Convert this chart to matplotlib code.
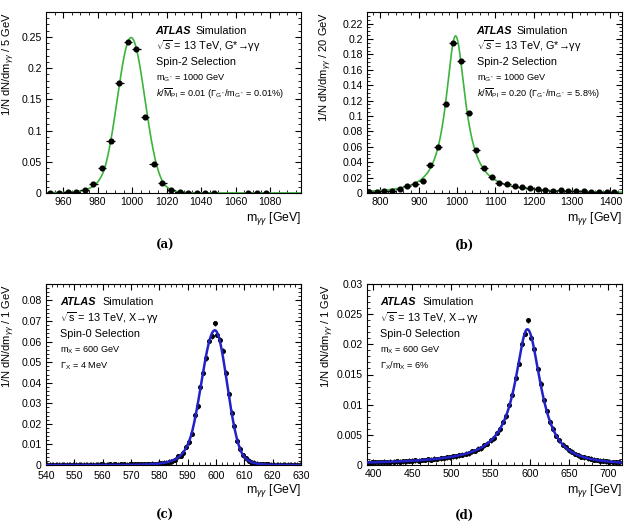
import numpy as np
import matplotlib
matplotlib.use("Agg")
import matplotlib.pyplot as plt
from matplotlib.ticker import MultipleLocator, FuncFormatter

plt.rcParams['font.family'] = ['Liberation Sans', 'DejaVu Sans']
plt.rcParams['mathtext.fontset'] = 'custom'
plt.rcParams['mathtext.rm'] = 'Liberation Sans'
plt.rcParams['mathtext.it'] = 'Liberation Sans:italic'
plt.rcParams['mathtext.bf'] = 'Liberation Sans:bold'

# (a) G* -> gg, k/MPl = 0.01, 5 GeV bins
a_x = [952.5, 957.5, 962.5, 967.5, 972.5, 977.5, 982.5, 987.5, 992.5, 997.5,
       1002.5, 1007.5, 1012.5, 1017.5, 1022.5, 1027.5, 1032.5, 1037.5, 1042.5,
       1047.5, 1067.5, 1072.5, 1077.5]
a_y = [0.0003, 0.0004, 0.0010, 0.0015, 0.0052, 0.0150, 0.0395, 0.0830, 0.1770,
       0.2425, 0.2310, 0.1220, 0.0470, 0.0160, 0.0043, 0.0015, 0.0008, 0.0005,
       0.0004, 0.0003, 0.0002, 0.0002, 0.0002]
a_err = 0.0025
a_fit = dict(mu=999.4, sl=8.0, sr=8.0, al=1.8, nl=6, ar=2.2, nr=10, amp=0.249)

# (b) G* -> gg, k/MPl = 0.20, 20 GeV bins
b_x = [770, 790, 810, 830, 850, 870, 890, 910, 930, 950, 970, 990, 1010, 1030,
       1050, 1070, 1090, 1110, 1130, 1150, 1170, 1190, 1210, 1230, 1250, 1270,
       1290, 1310, 1330, 1350, 1370, 1390, 1410]
b_y = [0.0012, 0.0018, 0.0025, 0.0032, 0.0054, 0.0088, 0.0120, 0.0160, 0.0370,
       0.0600, 0.1150, 0.1950, 0.1720, 0.1040, 0.0560, 0.0330, 0.0210, 0.0135,
       0.0122, 0.0092, 0.0072, 0.0065, 0.0050, 0.0040, 0.0030, 0.0040, 0.0025,
       0.0022, 0.0020, 0.0018, 0.0017, 0.0015, 0.0014]
b_err = 0.002
b_fit = dict(mu=996.0, gl=33.0, pl=1.15, gr=31.0, pr=1.0, amp=0.204)

# (c) X -> gg, width 4 MeV, 1 GeV bins starting at 540.5
c_y = [0.0001, 0.0002, 0.0001, 0.0001, 0.0002, 0.0001, 0.0002, 0.0001, 0.0002, 0.0002,
       0.0001, 0.0002, 0.0002, 0.0001, 0.0002, 0.0002, 0.0002, 0.0001, 0.0002, 0.0003,
       0.0002, 0.0002, 0.0003, 0.0002, 0.0003, 0.0002, 0.0003, 0.0003, 0.0002, 0.0003,
       0.0003, 0.0004, 0.0003, 0.0004, 0.0004, 0.0005, 0.0004, 0.0006, 0.0005, 0.0007,
       0.0008, 0.0010, 0.0012, 0.0016, 0.0019, 0.0025, 0.0042, 0.0046, 0.0060, 0.0088,
       0.0110, 0.0152, 0.0242, 0.0286, 0.0380, 0.0448, 0.0520, 0.0603, 0.0625, 0.0690,
       0.0632, 0.0610, 0.0555, 0.0448, 0.0345, 0.0255, 0.0190, 0.0118, 0.0080, 0.0047,
       0.0033, 0.0020, 0.0013, 0.0010, 0.0007, 0.0005, 0.0004, 0.0003, 0.0003, 0.0002,
       0.0002, 0.0001, 0.0002, 0.0001, 0.0001, 0.0002, 0.0001, 0.0001, 0.0001, 0.0001]
c_first = 540.5
c_width = 1.0
c_err = 0.0012
c_fit = dict(mu=599.6, sl=4.8, sr=4.3, al=1.6, nl=8, ar=2.0, nr=10, amp=0.0655)

# (d) X -> gg, width 6%, 4 GeV bins starting at 394
d_y = [0.00040, 0.00046, 0.00043, 0.00049, 0.00046, 0.00052, 0.00050, 0.00055, 0.00054,
       0.00060, 0.00057, 0.00064, 0.00062, 0.00070, 0.00069, 0.00076, 0.00074, 0.00083,
       0.00082, 0.00092, 0.00090, 0.00101, 0.00100, 0.00113, 0.00112, 0.00126, 0.00128,
       0.00143, 0.00146, 0.00163, 0.00170, 0.00190, 0.00197, 0.00224, 0.00232, 0.00268,
       0.00280, 0.00328, 0.00350, 0.00410, 0.00445, 0.00530, 0.00590, 0.00712, 0.00810,
       0.00995, 0.01160, 0.01445, 0.01680, 0.02010, 0.02170, 0.02400, 0.02110, 0.01920,
       0.01590, 0.01350, 0.01075, 0.00895, 0.00710, 0.00600, 0.00480, 0.00412, 0.00335,
       0.00292, 0.00243, 0.00217, 0.00182, 0.00164, 0.00139, 0.00128, 0.00110, 0.00102,
       0.00088, 0.00083, 0.00071, 0.00068, 0.00059, 0.00057, 0.00050, 0.00048, 0.00042]
d_first = 394.0
d_width = 4.0
d_err = 0.0004
d_fit = dict(mu=597.0, gl=17.0, pl=0.8, gr=23.0, pr=1.2, amp=0.0225)


# fit shapes used for the curves
def dscb(x, mu, sl, sr, al, nl, ar, nr, amp):
    t = np.where(x < mu, (x - mu) / sl, (x - mu) / sr)
    y = np.exp(-0.5 * t ** 2)
    lo = t < -al
    y[lo] = np.exp(-0.5 * al ** 2) * ((nl / al - al - t[lo]) / (nl / al)) ** (-nl)
    hi = t > ar
    y[hi] = np.exp(-0.5 * ar ** 2) * ((nr / ar - ar + t[hi]) / (nr / ar)) ** (-nr)
    return amp * y


def bw_asym(x, mu, gl, pl, gr, pr, amp):
    g = np.where(x < mu, gl, gr)
    p = np.where(x < mu, pl, pr)
    return amp * (1 + ((x - mu) / g) ** 2) ** (-p)


def fmt(v, pos):
    return f"{v:g}"


def style(ax, xlim, ylim, xmaj, xmin, ymaj, ymin, binw):
    ax.set_xlim(*xlim)
    ax.set_ylim(*ylim)
    ax.xaxis.set_major_locator(MultipleLocator(xmaj))
    ax.xaxis.set_minor_locator(MultipleLocator(xmin))
    ax.yaxis.set_major_locator(MultipleLocator(ymaj))
    ax.yaxis.set_minor_locator(MultipleLocator(ymin))
    ax.yaxis.set_major_formatter(FuncFormatter(fmt))
    ax.xaxis.set_major_formatter(FuncFormatter(fmt))
    ax.tick_params(which='both', direction='in', top=True, right=True, labelsize=7.6)
    ax.tick_params(which='major', length=4.5, pad=3)
    ax.tick_params(which='minor', length=2.3)
    for s in ax.spines.values():
        s.set_linewidth(0.8)
    ax.set_xlabel(r"m$_{\gamma\gamma}$ [GeV]", loc='right', fontsize=8.8)
    ax.xaxis.set_label_coords(1.0, -0.095)
    ax.set_ylabel(r"1/N dN/dm$_{\gamma\gamma}$ / " + binw, loc='top', fontsize=8.0)


def info(ax, x0, y0, sim_dx, lines):
    ax.text(x0, y0, "ATLAS", transform=ax.transAxes, fontsize=7.8,
            weight='bold', style='italic', va='center')
    ax.text(x0 + sim_dx, y0, "Simulation", transform=ax.transAxes, fontsize=7.8, va='center')
    for i, (s, fs) in enumerate(lines):
        ax.text(x0, y0 - 0.088 * (i + 1), s, transform=ax.transAxes, fontsize=fs, va='center')


W, H = 629, 530
fig = plt.figure(figsize=(W / 100, H / 100), dpi=100)
ax_a = fig.add_axes([46 / W, 1 - 193 / H, 255 / W, 181 / H])
ax_b = fig.add_axes([367 / W, 1 - 193 / H, 255 / W, 181 / H])
ax_c = fig.add_axes([46 / W, 1 - 465 / H, 255 / W, 181 / H])
ax_d = fig.add_axes([367 / W, 1 - 465 / H, 255 / W, 181 / H])

green = '#3cb43c'
blue = '#2222c8'

# (a)
xs = np.linspace(950, 1098, 600)
ax_a.plot(xs, dscb(xs, **a_fit), color=green, lw=1.2, zorder=2)
ax_a.errorbar(a_x, a_y, xerr=2.5, yerr=a_err, fmt='o', color='black', ms=3.4,
              elinewidth=0.9, capsize=0, zorder=3)
style(ax_a, (950, 1098), (0, 0.29), 20, 5, 0.05, 0.01, "5 GeV")
ax_a.yaxis.set_label_coords(-0.112, 1.0)
info(ax_a, 0.43, 0.897, 0.158, [
    (r"$\sqrt{s}$ = 13 TeV, G*→γγ", 7.8),
    ("Spin-2 Selection", 7.8),
    (r"m$_{\mathrm{G^*}}$ = 1000 GeV", 6.6),
    (r"$k/\overline{\mathrm{M}}_{\mathrm{Pl}}$ = 0.01 ($\Gamma_{\mathrm{G^*}}$/m$_{\mathrm{G^*}}$ = 0.01%)", 6.6),
])

# (b)
xs = np.linspace(765, 1430, 800)
ax_b.plot(xs, bw_asym(xs, **b_fit), color=green, lw=1.2, zorder=2)
ax_b.errorbar(b_x, b_y, xerr=10, yerr=b_err, fmt='o', color='black', ms=3.4,
              elinewidth=0.9, capsize=0, zorder=3)
style(ax_b, (765, 1430), (0, 0.235), 100, 20, 0.02, 0.005, "20 GeV")
ax_b.yaxis.set_label_coords(-0.13, 1.0)
info(ax_b, 0.43, 0.897, 0.158, [
    (r"$\sqrt{s}$ = 13 TeV, G*→γγ", 7.8),
    ("Spin-2 Selection", 7.8),
    (r"m$_{\mathrm{G^*}}$ = 1000 GeV", 6.6),
    (r"$k/\overline{\mathrm{M}}_{\mathrm{Pl}}$ = 0.20 ($\Gamma_{\mathrm{G^*}}$/m$_{\mathrm{G^*}}$ = 5.8%)", 6.6),
])

# (c)
c_x = c_first + c_width * np.arange(len(c_y))
ax_c.errorbar(c_x, c_y, xerr=c_width / 2, yerr=c_err, fmt='o', color='black', ms=2.6,
              elinewidth=0.9, capsize=0, zorder=2)
xs = np.linspace(540, 630, 800)
ax_c.plot(xs, dscb(xs, **c_fit), color=blue, lw=1.8, zorder=3)
style(ax_c, (540, 630), (0, 0.088), 10, 2, 0.01, 0.002, "1 GeV")
ax_c.tick_params(axis='x', which='major', pad=4.5)
ax_c.yaxis.set_label_coords(-0.112, 1.0)
info(ax_c, 0.055, 0.899, 0.166, [
    (r"$\sqrt{\mathrm{s}}$ = 13 TeV, X→γγ", 7.8),
    ("Spin-0 Selection", 7.8),
    (r"m$_{\mathrm{X}}$ = 600 GeV", 6.6),
    (r"$\Gamma_{\mathrm{X}}$ = 4 MeV", 6.6),
])

# (d)
d_x = d_first + d_width * np.arange(len(d_y))
ax_d.errorbar(d_x, d_y, xerr=d_width / 2, yerr=d_err, fmt='o', color='black', ms=2.6,
              elinewidth=0.9, capsize=0, zorder=2)
xs = np.linspace(392, 718, 800)
ax_d.plot(xs, bw_asym(xs, **d_fit), color=blue, lw=1.8, zorder=3)
style(ax_d, (392, 718), (0, 0.03), 50, 10, 0.005, 0.001, "1 GeV")
ax_d.yaxis.set_label_coords(-0.12, 1.0)
info(ax_d, 0.051, 0.899, 0.166, [
    (r"$\sqrt{\mathrm{s}}$ = 13 TeV, X→γγ", 7.8),
    ("Spin-0 Selection", 7.8),
    (r"m$_{\mathrm{X}}$ = 600 GeV", 6.6),
    (r"$\Gamma_{\mathrm{X}}$/m$_{\mathrm{X}}$ = 6%", 6.6),
])

# panel letters
for lab, fx, fy in [("(a)", 165, 245), ("(b)", 465, 245), ("(c)", 165, 515), ("(d)", 465, 515)]:
    fig.text(fx / W, 1 - fy / H, lab, ha='center', va='center', fontsize=8.5,
             family='DejaVu Serif', weight='bold')

fig.savefig("out.png", dpi=100)
